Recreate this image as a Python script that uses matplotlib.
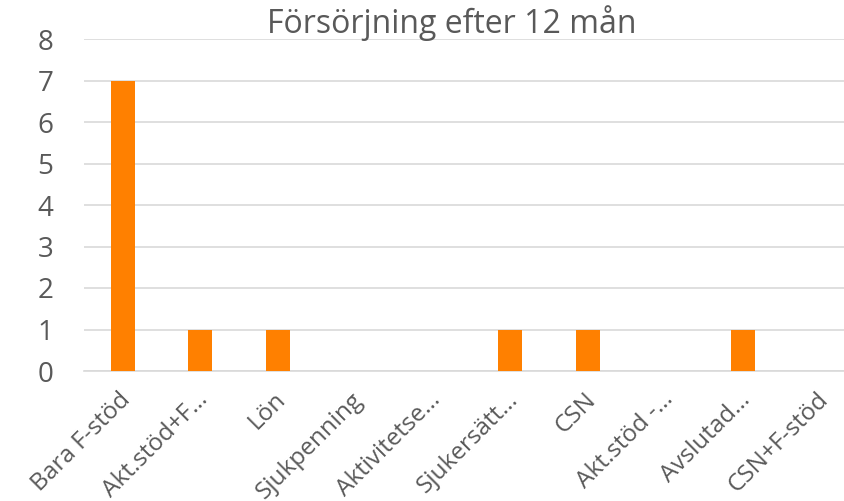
import matplotlib
matplotlib.use("Agg")
import matplotlib.pyplot as plt
from matplotlib.transforms import ScaledTranslation

categories = [
    "Bara F-stöd", "Akt.stöd+F…", "Lön", "Sjukpenning", "Aktivitetse…",
    "Sjukersätt…", "CSN", "Akt.stöd -…", "Avslutad…", "CSN+F-stöd",
]
values = [7, 1, 1, 0, 0, 1, 1, 0, 1, 0]
y_ticks = [0, 1, 2, 3, 4, 5, 6, 7, 8]
title = "Försörjning efter 12 mån"

plt.rcParams["font.family"] = ["Open Sans", "DejaVu Sans"]
text_color = "#595959"
grid_color = "#d9d9d9"

fig = plt.figure(figsize=(8.45, 5.01), dpi=100)
# plot area runs a bit past the right edge, like the original
ax = fig.add_axes([84 / 845, 1 - 371 / 501, 775 / 845, 332 / 501])

x = list(range(len(categories)))
ax.bar(x, values, width=0.31, color="#ff8000", zorder=3)

ax.set_xlim(-0.5, len(categories) - 0.5)
ax.set_ylim(0, 8)
ax.set_yticks(y_ticks)
ax.set_yticklabels([str(v) for v in y_ticks], fontsize=20, color=text_color)
ax.set_xticks(x)
ax.set_xticklabels(categories, rotation=45, ha="right", rotation_mode="anchor",
                   fontsize=17.5, color=text_color)
ax.tick_params(axis="y", length=0, pad=22)
ax.tick_params(axis="x", length=0, pad=12)

# nudge rotated labels a little left so their ends sit over the bars
shift = ScaledTranslation(-4 / 100, 0, fig.dpi_scale_trans)
for lbl in ax.get_xticklabels():
    lbl.set_transform(lbl.get_transform() + shift)

ax.grid(axis="y", color=grid_color, linewidth=1.2, zorder=0)
for side in ["top", "right", "left"]:
    ax.spines[side].set_visible(False)
ax.spines["bottom"].set_color(grid_color)
ax.spines["bottom"].set_linewidth(1.2)

fig.text(452 / 845, 1 - 23 / 501, title, ha="center", va="center",
         fontsize=23, color=text_color)

fig.savefig("out.png", dpi=100)
